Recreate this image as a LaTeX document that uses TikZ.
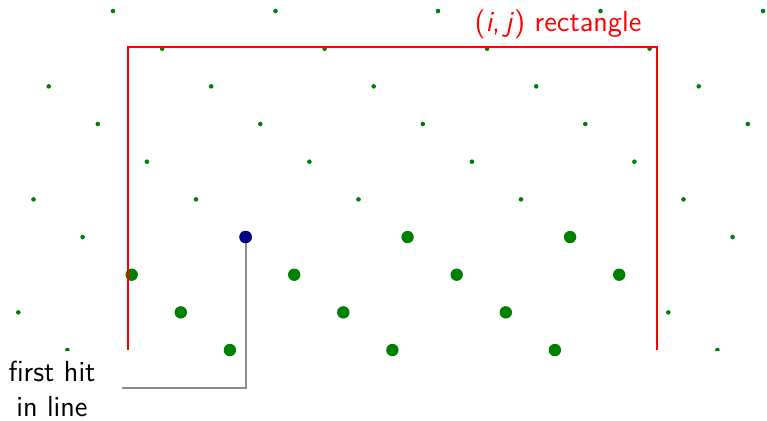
\documentclass[tikz,border=0pt]{standalone}
\usepackage{tikz}
\definecolor{dotgreen}{RGB}{0,128,0}
\definecolor{hitblue}{RGB}{0,0,128}
\definecolor{linegray}{RGB}{140,140,140}
\tikzset{
  smalldot/.style={circle,fill=dotgreen,inner sep=0pt,minimum size=2.3pt},
  bigdot/.style={circle,fill=dotgreen,inner sep=0pt,minimum size=6.2pt},
  hitdot/.style={circle,fill=hitblue,inner sep=0pt,minimum size=6.2pt},
  rectline/.style={draw=red,line width=1pt},
  pointer/.style={draw=linegray,line width=1pt},
  lbl/.style={font=\sffamily\fontsize{14.5}{16.5}\selectfont,inner sep=0pt}
}
\begin{document}
\begin{tikzpicture}[x=0.5pt,y=-0.5pt]
\useasboundingbox (0,0) rectangle (767,420);
% small dots, clipped at the bottom
\begin{scope}
\clip (0,0) rectangle (767,350);
\foreach \k in {0,...,9}{
  \foreach \m in {-3,...,4}{
    \pgfmathsetmacro\px{113+49.1*\k+162.5*\m}
    \pgfmathsetmacro\py{11+37.67*\k}
    \pgfmathtruncatemacro\isbig{((\k>5)&&(\px>128)&&(\px<657))?1:0}
    \pgfmathtruncatemacro\inside{((\px>3)&&(\px<772))?1:0}
    \ifnum\inside=1
      \ifnum\isbig=0
        \node[smalldot] (s\k\m) at (\px,\py) {};
      \fi
    \fi
  }
}
\end{scope}
% big dots
\foreach \k in {6,...,9}{
  \foreach \m in {-3,...,4}{
    \pgfmathsetmacro\px{113+49.1*\k+162.5*\m}
    \pgfmathsetmacro\py{11+37.67*\k}
    \pgfmathtruncatemacro\isbig{((\px>128)&&(\px<657))?1:0}
    \ifnum\isbig=1
      \ifnum\k=6 \ifnum\m=-1 \else
        \node[bigdot] (b\k\m) at (\px,\py) {};
      \fi \else
        \node[bigdot] (b\k\m) at (\px,\py) {};
      \fi
    \fi
  }
}
% red rectangle
\coordinate (rbl) at (128,350);
\coordinate (rtl) at (128,47);
\coordinate (rtr) at (657,47);
\coordinate (rbr) at (657,350);
\draw[rectline] (rbl) -- (rtl) -- (rtr) -- (rbr);
\node[lbl,text=red] (rlabel) at (558,24) {(\textit{i},\,\textit{j}) rectangle};
% first hit
\node[hitdot] (hit) at (245.6,237) {};
\coordinate (lineend) at (122,388);
\draw[pointer] (hit.center) |- (lineend);
\node[lbl,align=center] (hitlabel) at (52,389) {first hit\\[1pt]in line};
\node[hitdot] at (hit) {};
\end{tikzpicture}
\end{document}
